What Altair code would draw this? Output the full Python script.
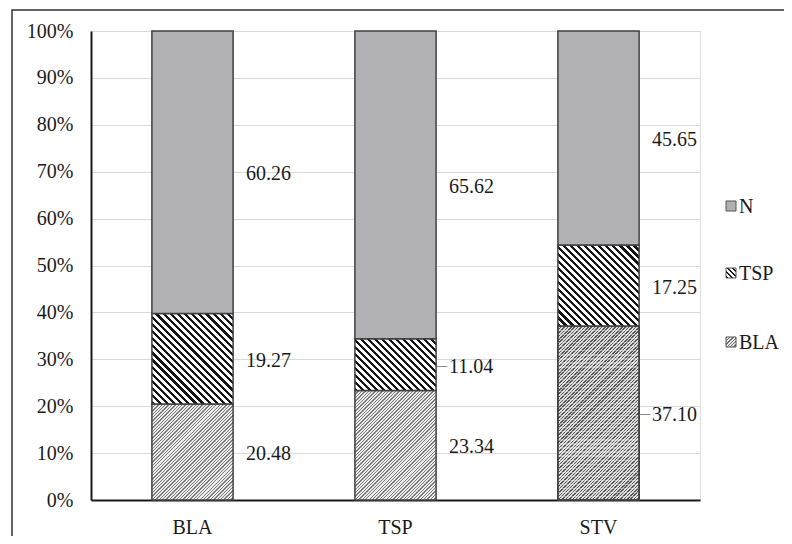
import math
import altair as alt
import pandas as pd

categories = ["BLA", "TSP", "STV"]
series_order = ["BLA", "TSP", "N"]
bla_vals = [20.48, 23.34, 37.10]
tsp_vals = [19.27, 11.04, 17.25]
n_vals = [60.26, 65.62, 45.65]
leader_labels = [("TSP", "TSP"), ("STV", "BLA")]  # (category, series) labels with leader line
legend_items = ["N", "TSP", "BLA"]

FONT = "Times New Roman, Liberation Serif, DejaVu Serif, serif"
TXT = "#1a1a1a"
W, H = 609, 469
BANDW = W / 3 * 0.4

rows = []
for i, c in enumerate(categories):
    base = 0.0
    for s, vals in zip(series_order, [bla_vals, tsp_vals, n_vals]):
        v = vals[i]
        rows.append(dict(grp=c, series=s, y0=base, y1=base + v, mid=base + v / 2,
                         label=f"{v:.2f}",
                         lead=(c, s) in leader_labels))
        base += v
df = pd.DataFrame(rows)


def hatch(w, h, period, frac, dark, light, direction):
    s = (w + h) / (w * w + h * h)
    if direction == "/":
        x1, y1, x2, y2 = 0, 0, s * w, s * h
    else:
        x1, y1, x2, y2 = 0, 1, s * w, 1 - s * h
    n = max(1, round((w + h) / math.sqrt(2) / period))
    stops = []
    for i in range(n):
        a = i / n
        b = (i + frac) / n
        e = (i + 1) / n
        stops += [{"offset": a, "color": dark}, {"offset": b, "color": dark},
                  {"offset": b, "color": light}, {"offset": e, "color": light}]
    return {"gradient": "linear", "stops": stops, "x1": x1, "y1": y1, "x2": x2, "y2": y2}


def hstripes(h, period, frac, col_a, col_b):
    n = max(1, round(h / period))
    stops = []
    for i in range(n):
        a = i / n
        b = (i + frac) / n
        e = (i + 1) / n
        stops += [{"offset": a, "color": col_a}, {"offset": b, "color": col_a},
                  {"offset": b, "color": col_b}, {"offset": e, "color": col_b}]
    return {"gradient": "linear", "stops": stops, "x1": 0, "y1": 0, "x2": 0, "y2": 1}


GRAY = "#b1b1b5"
STROKE = "#404040"

x_enc = alt.X("grp:N", sort=categories,
              scale=alt.Scale(paddingInner=0.6, paddingOuter=0.3),
              axis=alt.Axis(title=None, labelAngle=0, ticks=False, labelFont=FONT,
                            labelFontSize=20, labelColor=TXT, labelPadding=17,
                            domainColor="#1a1a1a", domainWidth=2, grid=False))
y_enc = alt.Y("y0:Q", scale=alt.Scale(domain=[0, 100], nice=False),
              axis=alt.Axis(title=None, values=list(range(0, 101, 10)),
                            labelExpr="datum.value + '%'", ticks=False,
                            labelFont=FONT, labelFontSize=20, labelColor=TXT,
                            labelPadding=18, domainColor="#1a1a1a", domainWidth=2,
                            grid=True, gridColor="#d9d9d9", gridWidth=1))

layers = []


def seg_fill(grp, series, value):
    h = value / 100 * H
    if series == "N":
        return GRAY
    if series == "TSP":
        return hatch(BANDW, h, 5.0, 0.45, "#141414", "#ffffff", "\\")
    if grp == "STV":
        return hatch(BANDW, h, 2.4, 0.45, "#555555", "#dcdcdc", "/")
    return hatch(BANDW, h, 2.4, 0.40, "#7a7a7a", "#ececec", "/")


for r in rows:
    sub = df[(df["grp"] == r["grp"]) & (df["series"] == r["series"])]
    val = r["y1"] - r["y0"]
    layers.append(
        alt.Chart(sub).mark_bar(fill=seg_fill(r["grp"], r["series"], val), stroke=STROKE,
                                strokeWidth=1.5, opacity=1)
        .encode(x=x_enc, y=y_enc, y2="y1:Q")
    )
    if r["grp"] == "STV" and r["series"] == "BLA":
        layers.append(
            alt.Chart(sub).mark_bar(
                fill=hstripes(val / 100 * H, 4.0, 0.3, "rgba(255,255,255,0.4)",
                              "rgba(255,255,255,0)"),
                stroke=STROKE, strokeWidth=1.5)
            .encode(x=x_enc, y=y_enc, y2="y1:Q")
        )

labels = alt.Chart(df).mark_text(align="left", baseline="middle", dx=BANDW / 2 + 13,
                                 dy=2, font=FONT, fontSize=20, color=TXT).encode(
    x=alt.X("grp:N", sort=categories), y=alt.Y("mid:Q"), text="label:N")
leaders = alt.Chart(df[df["lead"]]).mark_text(align="left", baseline="middle",
                                              dx=BANDW / 2 + 1, dy=1, font=FONT,
                                              fontSize=20, color="#8a8a8a").encode(
    x=alt.X("grp:N", sort=categories), y=alt.Y("mid:Q"), text=alt.value("–"))
layers += [labels, leaders]

frame = alt.Chart(pd.DataFrame({"a": [0]})).mark_rect(
    fill="transparent", stroke="#333333", strokeWidth=1.5).encode(
    x=alt.value(-79), x2=alt.value(720), y=alt.value(-21), y2=alt.value(540))
layers.append(frame)

legend_fill = {
    "N": GRAY,
    "TSP": hatch(10, 10, 3.2, 0.5, "#1a1a1a", "#ffffff", "\\"),
    "BLA": hatch(10, 10, 2.4, 0.45, "#6a6a6a", "#eeeeee", "/"),
}
legend_y = {"N": 175, "TSP": 242, "BLA": 311}
for item in legend_items:
    yy = legend_y[item]
    d = pd.DataFrame({"t": [item]})
    layers.append(alt.Chart(d).mark_rect(fill=legend_fill[item], stroke="#555555",
                                         strokeWidth=1).encode(
        x=alt.value(635), x2=alt.value(645), y=alt.value(yy - 5), y2=alt.value(yy + 5)))
    layers.append(alt.Chart(d).mark_text(align="left", baseline="middle", font=FONT,
                                         fontSize=20, color=TXT).encode(
        x=alt.value(648), y=alt.value(yy + 1), text="t:N"))

chart = alt.layer(*layers).properties(
    width=W, height=H,
    autosize=alt.AutoSizeParams(type="none"),
    padding={"left": 83, "top": 23, "right": 84, "bottom": 36},
).configure_view(strokeWidth=0).configure(background="white")

chart.save("out.html", embed_options={"renderer": "svg", "actions": False})
